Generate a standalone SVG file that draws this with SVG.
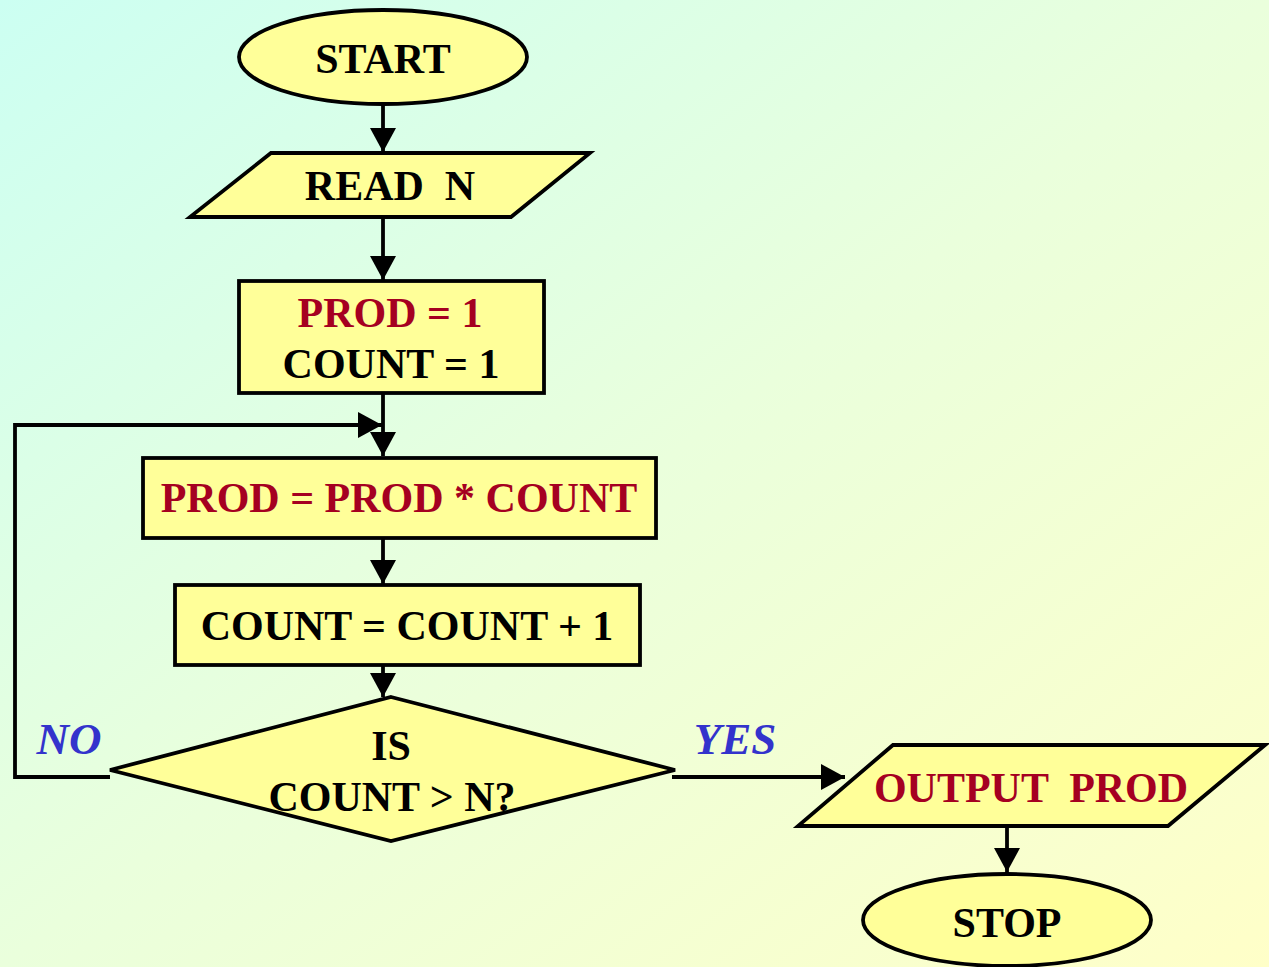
<svg xmlns="http://www.w3.org/2000/svg" width="1269" height="967" viewBox="0 0 1269 967">
<defs>
<linearGradient id="bg" x1="0" y1="0" x2="1" y2="1">
<stop offset="0" stop-color="#ccfff2"/>
<stop offset="0.5" stop-color="#eaffdc"/>
<stop offset="1" stop-color="#ffffc8"/>
</linearGradient>
<marker id="ah" markerUnits="userSpaceOnUse" markerWidth="28" markerHeight="28" refX="24" refY="13" orient="auto" viewBox="0 0 28 26">
<path d="M0,0 L24,13 L0,26 z" fill="#000"/>
</marker>
<style>
.shape{fill:#ffff99;stroke:#000;stroke-width:3.8}
.t{font-family:"Liberation Serif","Times New Roman",serif;font-weight:bold;font-size:42px;text-anchor:middle}
.k{fill:#000}
.r{fill:#a50021}
.b{fill:#3333cc;font-style:italic;font-size:45px}
.c{fill:none;stroke:#000;stroke-width:3.8}
</style>
</defs>
<rect width="1269" height="967" fill="url(#bg)"/>
<g id="connectors">
<line class="c" x1="383" y1="104" x2="383" y2="152" marker-end="url(#ah)"/>
<line class="c" x1="383" y1="217" x2="383" y2="280" marker-end="url(#ah)"/>
<line class="c" x1="383" y1="393" x2="383" y2="456" marker-end="url(#ah)"/>
<polyline class="c" points="110,777 15,777 15,425 382,425" marker-end="url(#ah)"/>
<line class="c" x1="383" y1="538" x2="383" y2="584" marker-end="url(#ah)"/>
<line class="c" x1="383" y1="665" x2="383" y2="697" marker-end="url(#ah)"/>
<line class="c" x1="672" y1="777" x2="845" y2="777" marker-end="url(#ah)"/>
<line class="c" x1="1007" y1="826" x2="1007" y2="872" marker-end="url(#ah)"/>
<text class="t b" x="69" y="754">NO</text>
<text class="t b" x="735" y="754">YES</text>
</g>
<g id="start">
<ellipse class="shape" cx="383" cy="57" rx="144" ry="47"/>
<text class="t k" x="383" y="73">START</text>
</g>
<g id="read">
<polygon class="shape" points="271,153 590,153 511,217 190,217"/>
<text class="t k" x="390" y="200" xml:space="preserve">READ  N</text>
</g>
<g id="init">
<rect class="shape" x="239" y="281" width="305" height="112"/>
<text class="t r" x="390" y="327">PROD = 1</text>
<text class="t k" x="391" y="378">COUNT = 1</text>
</g>
<g id="multiply">
<rect class="shape" x="143" y="458" width="513" height="80"/>
<text class="t r" x="399" y="512">PROD = PROD * COUNT</text>
</g>
<g id="increment">
<rect class="shape" x="175" y="585" width="465" height="80"/>
<text class="t k" x="407" y="640">COUNT = COUNT + 1</text>
</g>
<g id="decision">
<polygon class="shape" points="391,697 675,770 391,841 110,770"/>
<text class="t k" x="391" y="760">IS</text>
<text class="t k" x="392" y="811">COUNT &gt; N?</text>
</g>
<g id="output">
<polygon class="shape" points="893,745 1265,745 1168,826 798,826"/>
<text class="t r" x="1031" y="802" xml:space="preserve">OUTPUT  PROD</text>
</g>
<g id="stop">
<ellipse class="shape" cx="1007" cy="920" rx="144" ry="46"/>
<text class="t k" x="1007" y="937">STOP</text>
</g>
</svg>
